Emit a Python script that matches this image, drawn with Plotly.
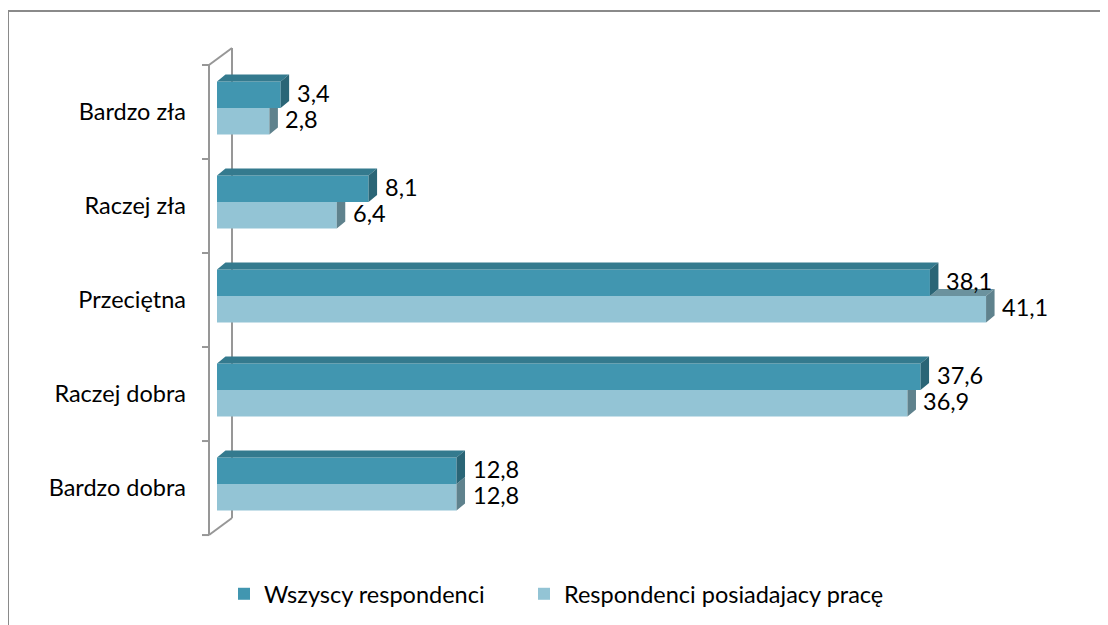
import plotly.graph_objects as go

# dane
kategorie = ["Bardzo zła", "Raczej zła", "Przeciętna", "Raczej dobra", "Bardzo dobra"]
wszyscy = [3.4, 8.1, 38.1, 37.6, 12.8]
pracujacy = [2.8, 6.4, 41.1, 36.9, 12.8]
nazwy = ["Wszyscy respondenci", "Respondenci posiadajacy pracę"]

# kolory (przód, góra, bok)
C_DARK = ("#4196B0", "#347A8E", "#2A6576")
C_LIGHT = ("#93C4D5", "#6B929E", "#5F828D")

FS = 23.5
W, H = 1108, 625
OFF = 8  # margines strony w przeglądarce
L, R, T, B = 200 - OFF, 28 + OFF, 40 - OFF, 75 + OFF
XR = [-0.909, 46.12]
YR = [4.702, -0.723]
BARGAP = 0.436
bw = (1 - BARGAP) / 2

pw, ph = W - L - R, H - T - B
xs = pw / (XR[1] - XR[0])
ys = ph / (YR[0] - YR[1])
DX = 8.5 / xs
DY = -7 / ys


def px_x(p):  # piksel ekranu -> wartość osi x
    return (p - OFF - L) / xs + XR[0]


def paper_x(p):
    return (p - OFF - L) / pw


def paper_y(p):
    return (H - B - (p - OFF)) / ph


pos = list(range(len(kategorie)))


def face_trace(polys, color):
    xx, yy = [], []
    for p in polys:
        for (a, b) in p:
            xx.append(a)
            yy.append(b)
        xx.append(p[0][0]); yy.append(p[0][1])
        xx.append(None); yy.append(None)
    return go.Scatter(x=xx, y=yy, mode="lines", fill="toself", fillcolor=color,
                      line=dict(width=0, color=color), hoverinfo="skip", showlegend=False)


d_top, d_side, l_top, l_side = [], [], [], []
for i, vd, vl in zip(pos, wszyscy, pracujacy):
    t = i - bw
    d_top.append([(0, t), (vd, t), (vd + DX, t + DY), (DX, t + DY)])
    d_side.append([(vd, t), (vd + DX, t + DY), (vd + DX, i + DY), (vd, i)])
    if vl > vd:
        l_top.append([(vd, i), (vl, i), (vl + DX, i + DY), (vd + DX, i + DY)])
    c = min(max(vd, vl), vl + DX)
    l_side.append([(vl, i), (c, i), (vl + DX, i + DY * (vl + DX - c) / DX),
                   (vl + DX, i + bw + DY), (vl, i + bw)])

fig = go.Figure()
fig.add_trace(go.Bar(y=pos, x=wszyscy, orientation="h", name=nazwy[0], legend="legend",
                     marker=dict(color=C_DARK[0], line=dict(width=0))))
fig.add_trace(go.Bar(y=pos, x=pracujacy, orientation="h", name=nazwy[1], legend="legend2",
                     marker=dict(color=C_LIGHT[0], line=dict(width=0))))
fig.add_trace(face_trace(l_top, C_LIGHT[1]))
fig.add_trace(face_trace(l_side, C_LIGHT[2]))
fig.add_trace(face_trace(d_top, C_DARK[1]))
fig.add_trace(face_trace(d_side, C_DARK[2]))

# etykiety wartości
for i, vd, vl in zip(pos, wszyscy, pracujacy):
    for v, y in ((vd, i - bw / 2), (vl, i + bw / 2)):
        fig.add_annotation(x=v, y=y, text=f"{v:.1f}".replace(".", ","), showarrow=False,
                           xanchor="left", yanchor="middle", xshift=14, yshift=2,
                           font=dict(size=FS, color="#000000"))

# ściana (oś 3D)
GRAY = "#979797"
fx, tx, bx = px_x(209), px_x(202), px_x(232)
f0 = -0.457
wdy = -17 / ys
n = len(kategorie)
ln = dict(color=GRAY, width=2)
fig.add_shape(type="line", x0=fx, x1=fx, y0=f0, y1=f0 + n, line=ln)
fig.add_shape(type="line", x0=bx, x1=bx, y0=f0 + wdy, y1=f0 + n + wdy, line=ln, layer="below")
fig.add_shape(type="line", x0=fx, x1=bx, y0=f0, y1=f0 + wdy, line=ln)
fig.add_shape(type="line", x0=fx, x1=bx, y0=f0 + n, y1=f0 + n + wdy, line=ln)
for k in range(n + 1):
    fig.add_shape(type="line", x0=tx, x1=fx, y0=f0 + k, y1=f0 + k, line=ln)

# ramka wykresu
fig.add_shape(type="rect", xref="paper", yref="paper",
              x0=paper_x(8), x1=paper_x(W + 20), y0=paper_y(H + 20), y1=paper_y(11),
              line=dict(color="#8a8a8a", width=2))

leg = dict(orientation="h", xanchor="left", yanchor="middle", y=paper_y(594),
           font=dict(size=FS), bgcolor="rgba(0,0,0,0)")

fig.update_layout(
    width=W, height=H,
    margin=dict(l=L, r=R, t=T, b=B),
    barmode="group", bargap=BARGAP, bargroupgap=0,
    paper_bgcolor="white", plot_bgcolor="white",
    font=dict(family="Lato, Carlito, sans-serif", size=FS, color="#000000"),
    xaxis=dict(range=XR, visible=False, showgrid=False, zeroline=False),
    yaxis=dict(range=YR, tickvals=[f0 + 0.5 + k for k in pos], ticktext=kategorie,
               showgrid=False, zeroline=False, showline=False, ticks="", ticklabelstandoff=13),
    legend=dict(leg, x=paper_x(224)),
    legend2=dict(leg, x=paper_x(524)),
    showlegend=True,
)

fig.write_html("out.html")
